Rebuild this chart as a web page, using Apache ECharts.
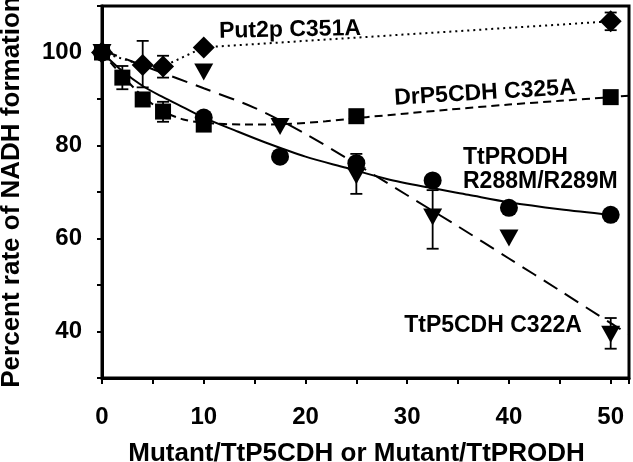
<!DOCTYPE html>
<html><head><meta charset="utf-8">
<script src="https://cdn.jsdelivr.net/npm/echarts@6/dist/echarts.min.js"></script>
<style>html,body{margin:0;padding:0;background:#fff}#c{width:633px;height:462px}</style>
</head><body><div id="c"></div>
<script>
// ---- measured points ----
const put2pX = [0, 4, 6, 10, 50];
const put2pY = [100, 97.3, 97.0, 101.1, 106.7];
const drX = [0, 2, 4, 6, 10, 25, 50];
const drY = [100, 94.6, 89.9, 87.3, 84.5, 86.3, 90.4];
const prodhX = [0, 10, 17.5, 25, 32.5, 40, 50];
const prodhY = [100, 86.0, 77.6, 76.2, 72.5, 66.6, 65.1];
const ttX = [0, 10, 17.5, 25, 32.5, 40, 50];
const ttY = [100, 95.8, 84.1, 73.5, 64.6, 60.1, 39.4];

// ---- fitted curves ----
const drFitX = [0, 2, 4, 6, 8, 10, 14, 18, 22, 26, 30, 34, 40, 45, 50, 51.8];
const drFitY = [100, 95, 90.6, 87.4, 85.6, 84.9, 84.5, 84.6, 85.2, 86.1, 86.9, 87.7, 88.8, 89.6, 90.4, 90.7];
const prodhFitX = [0, 2, 4, 6, 8, 10, 13, 16, 20, 24, 28, 32, 36, 40, 45, 50];
const prodhFitY = [100, 96.0, 92.8, 90.4, 88.2, 86.0, 83.3, 80.7, 77.6, 75.2, 72.8, 71.0, 69.4, 67.8, 66.3, 65.1];
const ttFitX = [0, 5, 10, 15, 20, 25, 30, 35, 40, 45, 50, 51.8];
const ttFitY = [100.5, 96.4, 92.3, 88.1, 82.5, 76.0, 69.3, 62.6, 55.7, 48.8, 41.8, 39.4];

// ---- error bars [x, low, high] ----
const put2pErr = [[4, 92.5, 102.5], [6, 94.6, 99.3], [50, 104.8, 108.6]];
const drErr = [[2, 92.1, 97.1], [6, 85.1, 89.4]];
const ttErr = [[25, 69.6, 78.2], [32.5, 57.8, 70.4], [50, 36.3, 42.9]];

// ---- tick labels ----
const xTickLabels = [0, 10, 20, 30, 40, 50];
const yTickLabels = [40, 60, 80, 100];

const zip = (a, b) => a.map((v, i) => [v, b[i]]);
const FONT = '"Liberation Sans", Arial, sans-serif';

function errRender(params, api) {
  const x = api.value(0), lo = api.value(1), hi = api.value(2);
  const pLo = api.coord([x, lo]), pHi = api.coord([x, hi]);
  const w = 6;
  const style = { stroke: '#000', lineWidth: 1.8 };
  return { type: 'group', children: [
    { type: 'line', shape: { x1: pLo[0], y1: pLo[1], x2: pHi[0], y2: pHi[1] }, style },
    { type: 'line', shape: { x1: pLo[0] - w, y1: pLo[1], x2: pLo[0] + w, y2: pLo[1] }, style },
    { type: 'line', shape: { x1: pHi[0] - w, y1: pHi[1], x2: pHi[0] + w, y2: pHi[1] }, style }
  ]};
}
function errSeries(d) {
  return { type: 'custom', renderItem: errRender, data: d, encode: { x: 0, y: [1, 2] }, z: 3, silent: true, clip: false };
}
function fitSeries(x, y, dash) {
  return { type: 'line', data: zip(x, y), showSymbol: false, symbol: 'none', smooth: 0.3,
    lineStyle: { color: '#000', width: 2, type: dash }, z: 2, silent: true };
}
function markerSeries(x, y, symbol, size, rotate) {
  return { type: 'scatter', data: zip(x, y), symbol: symbol, symbolSize: size, symbolRotate: rotate || 0,
    itemStyle: { color: '#000', opacity: 1 }, z: 4, clip: false, silent: true };
}

const chart = echarts.init(document.getElementById('c'), null, { renderer: 'canvas' });
chart.setOption({
  animation: false,
  backgroundColor: '#fff',
  grid: { left: 102, right: 4, top: 6, bottom: 84, outerBoundsMode: 'none', containLabel: false,
    show: true, borderColor: '#000', borderWidth: 3, backgroundColor: 'transparent' },
  xAxis: {
    type: 'value', min: 0, max: 51.8, interval: 5,
    axisLine: { lineStyle: { color: '#000', width: 3 } },
    axisTick: { length: 6, lineStyle: { color: '#000', width: 2 } },
    splitLine: { show: false },
    axisLabel: { formatter: v => xTickLabels.includes(v) ? String(v) : '', color: '#000', fontSize: 24, fontWeight: 'bold', fontFamily: FONT, margin: 27 },
    name: 'Mutant/TtP5CDH or Mutant/TtPRODH', nameLocation: 'middle', nameGap: 63,
    nameTextStyle: { color: '#000', fontSize: 26, fontWeight: 'bold', fontFamily: FONT, padding: [0, 18, 0, 0] }
  },
  yAxis: {
    type: 'value', min: 30, max: 110, interval: 10,
    axisLine: { lineStyle: { color: '#000', width: 3 } },
    axisTick: { length: 5, lineStyle: { color: '#000', width: 2 } },
    splitLine: { show: false },
    axisLabel: { formatter: v => yTickLabels.includes(v) ? String(v) : '', color: '#000', fontSize: 24, fontWeight: 'bold', fontFamily: FONT, margin: 20 },
    name: 'Percent rate of NADH formation', nameLocation: 'middle', nameGap: 77,
    nameTextStyle: { color: '#000', fontSize: 26, fontWeight: 'bold', fontFamily: FONT }
  },
  series: [
    fitSeries(drFitX, drFitY, [8, 5]),
    fitSeries(prodhFitX, prodhFitY, 'solid'),
    fitSeries(ttFitX, ttFitY, [16, 9]),
    { type: 'line', data: zip(put2pX, put2pY), symbol: 'none', showSymbol: false, smooth: false,
      lineStyle: { color: '#000', width: 2, type: [2, 4] }, z: 2, silent: true },
    errSeries(put2pErr), errSeries(drErr), errSeries(ttErr),
    markerSeries(ttX, ttY, 'triangle', [19, 17], 180),
    markerSeries(drX, drY, 'rect', 16),
    markerSeries(prodhX, prodhY, 'circle', 18),
    markerSeries(put2pX, put2pY, 'diamond', 22)
  ],
  graphic: [
    { type: 'text', x: 290, y: 30, rotation: 0.02, style: { text: 'Put2p C351A', font: 'bold 23px ' + FONT, fill: '#000', textAlign: 'center', textVerticalAlign: 'middle' } },
    { type: 'text', x: 485, y: 93, rotation: 0.06, style: { text: 'DrP5CDH C325A', font: 'bold 23px ' + FONT, fill: '#000', textAlign: 'center', textVerticalAlign: 'middle' } },
    { type: 'text', x: 463, y: 158, style: { text: 'TtPRODH', font: 'bold 23px ' + FONT, fill: '#000', textAlign: 'left', textVerticalAlign: 'middle' } },
    { type: 'text', x: 463, y: 182, style: { text: 'R288M/R289M', font: 'bold 23px ' + FONT, fill: '#000', textAlign: 'left', textVerticalAlign: 'middle' } },
    { type: 'text', x: 493, y: 326, style: { text: 'TtP5CDH C322A', font: 'bold 23px ' + FONT, fill: '#000', textAlign: 'center', textVerticalAlign: 'middle' } }
  ]
});
</script>
</body></html>
